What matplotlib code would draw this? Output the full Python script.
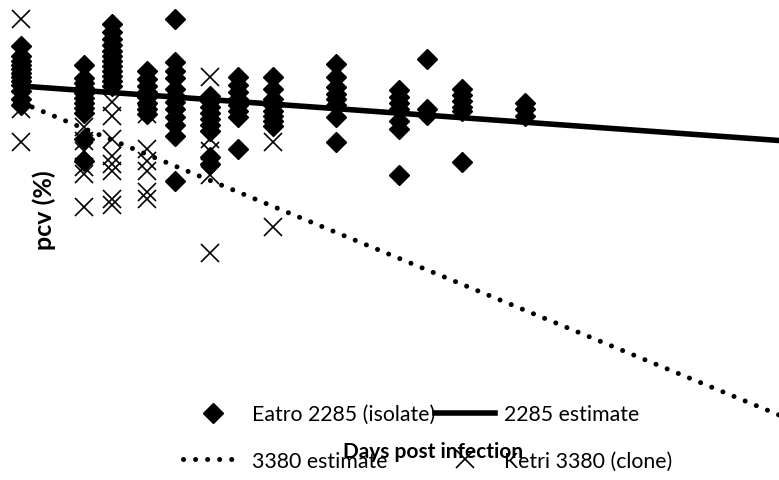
import matplotlib
matplotlib.use('Agg')
import matplotlib.pyplot as plt

plt.rcParams['font.family'] = ['Lato', 'DejaVu Sans']

# Eatro 2285 (isolate) : pcv (%) read per sampling day
days_2285 = [0, 9, 13, 18, 22, 27, 31, 36, 45, 54, 58, 63, 72]
pcv_2285 = [
    [43.4, 42.4, 41.9, 41.5, 41.1, 40.7, 40.3, 39.9, 39.5, 38.9, 38.1, 37.5],
    [41.5, 40.2, 39.7, 39.2, 38.7, 38.2, 37.7, 37.2, 36.7, 34.1, 31.9],
    [45.6, 44.8, 44.1, 43.5, 42.9, 42.4, 41.9, 41.4, 40.9, 40.4, 39.9, 39.4],
    [40.9, 40.1, 39.4, 38.8, 38.3, 37.7, 37.1, 36.6],
    [46.1, 41.8, 40.9, 40.2, 39.1, 38.4, 37.8, 37.1, 36.3, 35.5, 34.4, 29.9],
    [38.4, 37.9, 37.3, 36.7, 36.1, 35.5, 34.9, 32.3, 31.6],
    [40.3, 39.5, 38.8, 38.1, 37.5, 36.9, 36.3, 33.1],
    [40.3, 39.1, 38.1, 37.5, 36.9, 36.4, 35.9, 35.4],
    [41.6, 40.3, 39.3, 38.6, 38.1, 37.5, 36.3, 33.8],
    [39.0, 38.3, 37.7, 37.1, 35.9, 35.1, 30.5],
    [42.1, 37.1, 36.5],
    [39.1, 38.5, 37.9, 37.3, 36.9, 31.8],
    [37.7, 37.1, 36.4],
]

# Ketri 3380 (clone)
days_3380 = [0, 9, 13, 18, 27, 36]
pcv_3380 = [
    [46.1, 40.6, 39.6, 37.1, 33.8],
    [35.3, 33.9, 32.9, 31.3, 30.6, 27.3],
    [37.8, 36.4, 34.1, 32.4, 31.6, 30.9, 28.1, 27.5],
    [37.8, 36.6, 33.1, 31.9, 30.9, 28.8, 28.1],
    [40.3, 34.1, 32.9, 30.5, 22.7],
    [33.8, 25.3],
]

# fitted estimates
est_days = [0, 108.3]
est_2285 = [39.4, 33.95]
est_3380 = [37.75, 6.5]

fig = plt.figure(figsize=(7.79, 4.81), dpi=100)
ax = fig.add_axes([0, 0, 1, 1])
ax.set_xlim(-3, 108.29)
ax.set_ylim(0, 48.1)
ax.axis('off')

x1, y1 = [], []
for d, vals in zip(days_2285, pcv_2285):
    x1 += [d]*len(vals)
    y1 += vals
x2, y2 = [], []
for d, vals in zip(days_3380, pcv_3380):
    x2 += [d]*len(vals)
    y2 += vals

h1, = ax.plot(x1, y1, 'D', color='black', ms=10, ls='none', label='Eatro 2285 (isolate)')
h4, = ax.plot(x2, y2, 'x', color='black', ms=13, mew=1.2, ls='none', label='Ketri 3380 (clone)')
h2, = ax.plot(est_days, est_2285, '-', color='black', lw=4, label='2285 estimate')
h3, = ax.plot(est_days, est_3380, color='black', lw=3.6, ls=(0, (0.01, 2.4)),
              dash_capstyle='round', label='3380 estimate')

fig.text(44/779, 1-210/481, 'pcv (%)', rotation=90, fontsize=18, fontweight='bold',
         ha='center', va='center')
fig.text(433/779, 1-452/481, 'Days post infection', fontsize=15, fontweight='bold',
         ha='center', va='center')

fig.legend([h1, h3, h2, h4],
           ['Eatro 2285 (isolate)', '3380 estimate', '2285 estimate', 'Ketri 3380 (clone)'],
           ncol=2, frameon=False, fontsize=15.3, loc='upper left',
           bbox_to_anchor=(183/779, 1-405/481), borderpad=0, borderaxespad=0,
           handlelength=2.8, handletextpad=0.45, columnspacing=0.0, labelspacing=1.26)

fig.savefig('out.png', dpi=100)
